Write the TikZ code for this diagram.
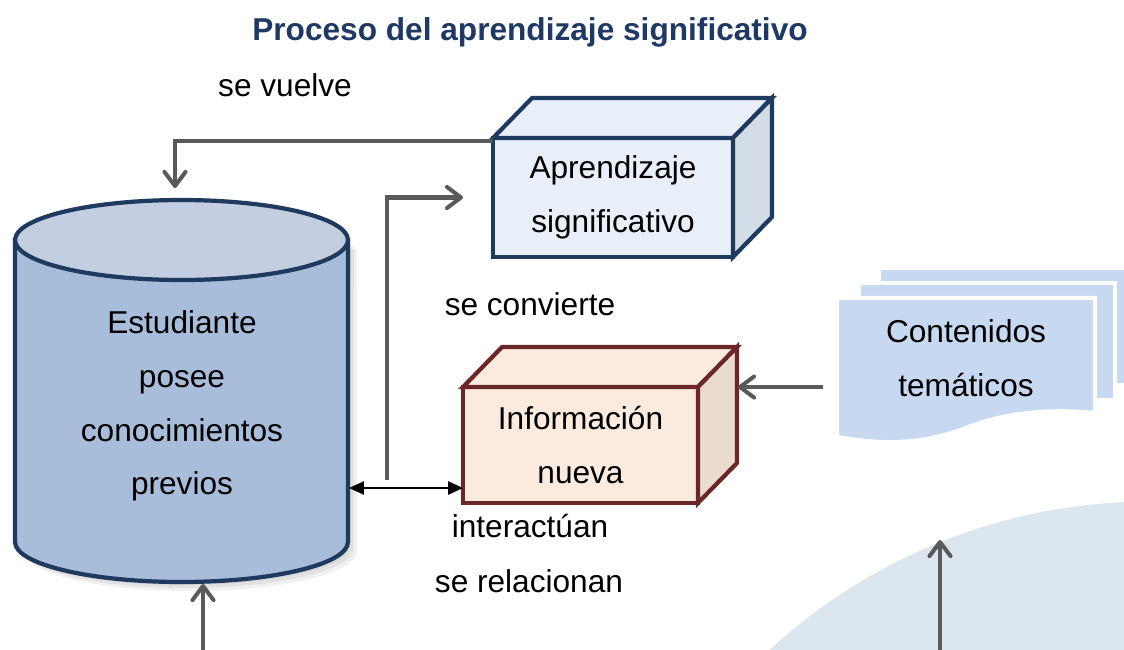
\documentclass[tikz,border=0pt]{standalone}
\usepackage{fontspec}
\setmainfont{Liberation Sans}
\usetikzlibrary{arrows.meta,calc}

\definecolor{titleblue}{HTML}{1F3864}
\definecolor{darkline}{HTML}{1F3A5F}
\definecolor{cylbody}{HTML}{A7BDDA}
\definecolor{cyltop}{HTML}{C3CFE0}
\definecolor{aprfront}{HTML}{E8EFF8}
\definecolor{aprside}{HTML}{D3DCE7}
\definecolor{redline}{HTML}{6B2626}
\definecolor{inffront}{HTML}{FBEBDF}
\definecolor{infside}{HTML}{EADBD1}
\definecolor{docblue}{HTML}{C6D9F0}
\definecolor{bgarc}{HTML}{DCE6EE}
\definecolor{arrowgray}{HTML}{595959}

\begin{document}
\begin{tikzpicture}[x=0.02cm, y=-0.02cm,
        txt/.style = {font=\fontsize{18}{30.6}\selectfont, align=center},
        lbl/.style = {font=\fontsize{18}{30.6}\selectfont, anchor=base},
        cube/.style = {draw=#1, line width=2.4pt, outer sep=0pt, inner sep=0pt, txt},
        face/.style = {draw=#1, line width=2.4pt},
        page/.style = {fill=docblue, draw=white, line width=2.5pt},
        flow/.style = {draw=arrowgray, line width=2.3pt, -{Straight Barb[round, length=8pt, width=12pt]}},
        both/.style = {draw=black, line width=1.1pt, {Triangle[length=8.5pt, width=7.5pt]}-{Triangle[length=8.5pt, width=7.5pt]}}
        ]
        \useasboundingbox (0,0) rectangle (1124,649);

        \fill[bgarc] (1150,1064) circle[radius=11.25cm];

        \node (title) at (530,40) [anchor=base, text=titleblue, font=\fontsize{18}{22}\selectfont\bfseries] {Proceso del aprendizaje significativo};

        % the student
        \foreach \s in {3,6,9}
            \fill[black, opacity=0.06] (15+\s,240+\s) -- (15+\s,542+\s) arc[start angle=180, end angle=360, x radius=3.33cm, y radius=0.8cm] -- (348+\s,240+\s) -- cycle;
        \draw[darkline, line width=2.4pt, fill=cylbody] (15,240) -- (15,542) arc[start angle=180, end angle=360, x radius=3.33cm, y radius=0.8cm] -- (348,240) -- cycle;
        \draw[darkline, line width=2.4pt, fill=cyltop] (181.5,240) ellipse[x radius=3.33cm, y radius=0.8cm];
        \node (est) at (182,406) [txt] {Estudiante\\posee\\conocimientos\\previos};
        \coordinate (esttop) at (175,188);
        \coordinate (estr) at (349,488);
        \coordinate (estbot) at (203,584);

        % boxes
        \node (apr) at (613,197.5) [cube=darkline, fill=aprfront, minimum width=4.8cm, minimum height=2.38cm] {Aprendizaje\\significativo};
        \draw[face=darkline, fill=aprfront] (apr.north west) -- ++(39,-40) -- ($(apr.north east)+(39,-40)$) -- (apr.north east) -- cycle;
        \draw[face=darkline, fill=aprside] (apr.north east) -- ++(39,-40) -- ($(apr.south east)+(39,-40)$) -- (apr.south east) -- cycle;

        \node (inf) at (580.5,445) [cube=redline, fill=inffront, minimum width=4.7cm, minimum height=2.32cm] {Información\\nueva};
        \draw[face=redline, fill=inffront] (inf.north west) -- ++(39,-40) -- ($(inf.north east)+(39,-40)$) -- (inf.north east) -- cycle;
        \draw[face=redline, fill=infside] (inf.north east) -- ++(39,-40) -- ($(inf.south east)+(39,-40)$) -- (inf.south east) -- cycle;

        % stack of pages
        \path[page] (879,268) rectangle (1140,385);
        \path[page] (859,283) rectangle (1115,400);
        \path[page] (837,298) -- (1095,298) -- (1095,413) .. controls (1040,408) and (1000,415) .. (966,428) .. controls (930,442) and (890,447) .. (837,437) -- cycle;
        \node (cont) at (966,358) [txt, minimum width=5.08cm] {Contenidos\\temáticos};

        % labels
        \node (vuelve) at (285,96) [lbl] {se vuelve};
        \node (convierte) at (530,315) [lbl] {se convierte};
        \node (interact) at (530,537) [lbl] {interactúan};
        \node (relac) at (529,592) [lbl] {se relacionan};

        % connectors
        \coordinate (conv) at (387,480);
        \coordinate (b1) at (203,652);
        \coordinate (b2) at (940,652);
        \coordinate (arctop) at (940,540);
        \draw[flow] ($(apr.north west)+(0,3)$) -| (esttop);
        \draw[flow] (conv) |- ($(apr.west)+(-30,0)$);
        \draw[both] (estr) -- (estr -| inf.west);
        \draw[flow] ($(cont.west |- inf.north east)+(-16,0)$) -- ($(inf.north east)+(40,0)$);
        \draw[flow] (b1) -- (estbot);
        \draw[flow] (b2) -- (arctop);

    \end{tikzpicture}
\end{document}
